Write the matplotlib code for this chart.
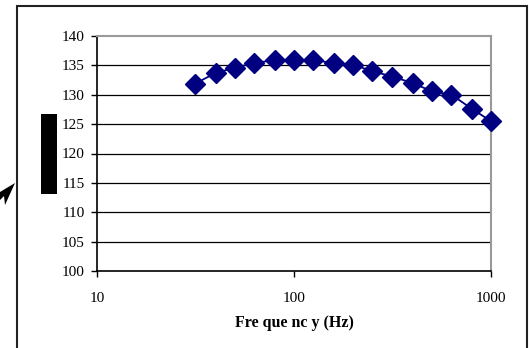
import matplotlib.pyplot as plt
from matplotlib.patches import Rectangle, Polygon

freq = [31.5, 40, 50, 63, 80, 100, 125, 160, 200, 250, 315, 400, 500, 630, 800, 1000]
level = [131.9, 133.7, 134.6, 135.4, 135.9, 135.9, 135.9, 135.4, 135.1, 134.0, 133.1, 132.0, 130.6, 130.0, 127.6, 125.5]
y_ticks = [100, 105, 110, 115, 120, 125, 130, 135, 140]
x_ticks = [10, 100, 1000]
x_tick_labels = ["10", "100", "1000"]

plt.rcParams['font.family'] = ['Liberation Serif', 'DejaVu Serif']

fig = plt.figure(figsize=(5.29, 3.48), dpi=100)
ax = fig.add_axes([97 / 529, 1 - 271 / 348, (491 - 97) / 529, (271 - 36) / 348])

ax.set_xscale('log')
ax.set_xlim(10, 1000)
ax.set_ylim(100, 140)
ax.set_yticks(y_ticks)
ax.set_yticklabels([str(v) for v in y_ticks])
ax.set_xticks(x_ticks)
ax.set_xticklabels(x_tick_labels)
ax.xaxis.set_minor_locator(plt.NullLocator())
ax.tick_params(axis='both', labelsize=11, length=4, width=1, color='black')
ax.tick_params(axis='x', pad=11)
ax.tick_params(axis='y', pad=5)

for v in y_ticks[1:-1]:
    ax.axhline(v, color='black', lw=0.9, zorder=1)

ax.plot(freq, level, color='#000080', lw=1.3, marker='D', markersize=10,
        markerfacecolor='#000080', markeredgecolor='#000080', zorder=3, clip_on=False)

ax.spines['left'].set_color('black')
ax.spines['bottom'].set_color('black')
ax.spines['left'].set_linewidth(1.2)
ax.spines['bottom'].set_linewidth(1.2)
ax.spines['top'].set_color('#999999')
ax.spines['right'].set_color('#999999')
ax.spines['top'].set_linewidth(1.5)
ax.spines['right'].set_linewidth(1.5)

ax.set_xlabel('Fre que nc y (Hz)', fontsize=11.5, fontweight='bold', labelpad=7)

# outer chart frame
fig.patches.append(Rectangle((17 / 529, -0.05), (527 - 17) / 529, 1 - 6 / 348 + 0.05,
                             transform=fig.transFigure, fill=False, ec='#222222', lw=1.5))
# redacted y label block
fig.patches.append(Rectangle((41 / 529, 1 - 194 / 348), 16 / 529, 80 / 348,
                             transform=fig.transFigure, fc='black', ec='none'))
# arrow head at left edge
fig.patches.append(Polygon([(0 / 529, 1 - 192 / 348), (15 / 529, 1 - 183 / 348),
                            (5 / 529, 1 - 205 / 348), (4 / 529, 1 - 196 / 348),
                            (0 / 529, 1 - 200 / 348)],
                           transform=fig.transFigure, fc='black', ec='none'))

fig.savefig('out.png', dpi=100)
